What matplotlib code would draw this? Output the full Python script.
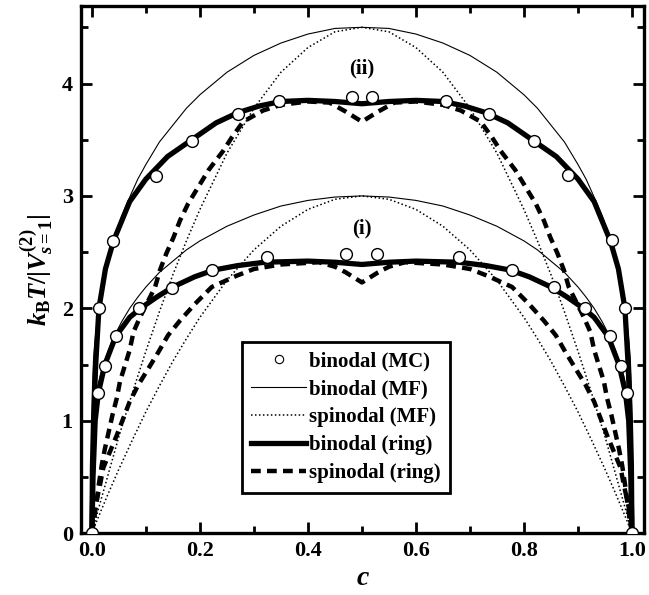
import matplotlib
matplotlib.use("Agg")
import matplotlib.pyplot as plt

plt.rcParams['font.family'] = ['Liberation Serif', 'DejaVu Serif']
plt.rcParams['font.weight'] = 'bold'
plt.rcParams['mathtext.fontset'] = 'custom'
plt.rcParams['mathtext.rm'] = 'Liberation Serif:bold'
plt.rcParams['mathtext.it'] = 'Liberation Serif:italic:bold'
plt.rcParams['mathtext.bf'] = 'Liberation Serif:bold'

# ---- Monte Carlo binodal points ----
mc2_c = [0.013, 0.039, 0.118, 0.185, 0.270, 0.347, 0.481, 0.518,
         0.656, 0.735, 0.819, 0.881, 0.964, 0.988]
mc2_T = [2.00, 2.60, 3.18, 3.49, 3.73, 3.84, 3.88, 3.88,
         3.84, 3.73, 3.49, 3.19, 2.61, 2.00]
mc1_c = [0.0, 0.012, 0.024, 0.044, 0.088, 0.148, 0.223, 0.324, 0.470, 0.527,
         0.680, 0.777, 0.855, 0.913, 0.959, 0.979, 0.991, 1.0]
mc1_T = [0.0, 1.25, 1.49, 1.75, 2.00, 2.18, 2.34, 2.46, 2.48, 2.48,
         2.46, 2.34, 2.19, 2.00, 1.75, 1.49, 1.25, 0.0]

# ---- mean-field binodal ----
mfb_c = [0.0, 0.0002, 0.001, 0.003, 0.005, 0.01, 0.015, 0.02, 0.03, 0.04,
         0.055, 0.07, 0.085, 0.10, 0.125, 0.15, 0.175, 0.20, 0.25, 0.30,
         0.35, 0.40, 0.45, 0.50, 0.55, 0.60, 0.65, 0.70, 0.75, 0.80, 0.825,
         0.85, 0.875, 0.90, 0.915, 0.93, 0.945, 0.96, 0.97, 0.98, 0.985,
         0.99, 0.995, 0.997, 0.999, 0.9998, 1.0]
mfb1_T = [0.0, 0.70, 0.87, 1.03, 1.12, 1.28, 1.39, 1.48, 1.62, 1.74,
          1.88, 2.00, 2.10, 2.19, 2.32, 2.42, 2.52, 2.60, 2.73, 2.83,
          2.91, 2.96, 2.99, 3.00, 2.99, 2.96, 2.91, 2.83, 2.73, 2.60, 2.52,
          2.42, 2.32, 2.19, 2.10, 2.00, 1.88, 1.74, 1.62, 1.48, 1.39,
          1.28, 1.12, 1.03, 0.87, 0.70, 0.0]
mfb2_T = [0.0, 1.05, 1.30, 1.55, 1.68, 1.92, 2.08, 2.22, 2.43, 2.61,
          2.82, 2.99, 3.15, 3.28, 3.48, 3.63, 3.78, 3.90, 4.10, 4.25,
          4.36, 4.44, 4.49, 4.50, 4.49, 4.44, 4.36, 4.25, 4.10, 3.90, 3.78,
          3.63, 3.48, 3.28, 3.15, 2.99, 2.82, 2.61, 2.43, 2.22, 2.08,
          1.92, 1.68, 1.55, 1.30, 1.05, 0.0]

# ---- mean-field spinodal ----
mfs_c = [0.0, 0.01, 0.03, 0.05, 0.075, 0.10, 0.125, 0.15, 0.175, 0.20, 0.25,
         0.30, 0.35, 0.40, 0.45, 0.50, 0.55, 0.60, 0.65, 0.70, 0.75, 0.80,
         0.825, 0.85, 0.875, 0.90, 0.925, 0.95, 0.97, 0.99, 1.0]
mfs1_T = [0.0, 0.12, 0.35, 0.57, 0.83, 1.08, 1.31, 1.53, 1.73, 1.92, 2.25,
          2.52, 2.73, 2.88, 2.97, 3.00, 2.97, 2.88, 2.73, 2.52, 2.25, 1.92,
          1.73, 1.53, 1.31, 1.08, 0.83, 0.57, 0.35, 0.12, 0.0]
mfs2_T = [0.0, 0.18, 0.52, 0.86, 1.25, 1.62, 1.97, 2.30, 2.60, 2.88, 3.38,
          3.78, 4.10, 4.32, 4.46, 4.50, 4.46, 4.32, 4.10, 3.78, 3.38, 2.88,
          2.60, 2.30, 1.97, 1.62, 1.25, 0.86, 0.52, 0.18, 0.0]

# ---- ring binodal ----
rb2_c = [0.0, 0.001, 0.003, 0.007, 0.013, 0.025, 0.04, 0.07, 0.10, 0.14,
         0.185, 0.23, 0.27, 0.31, 0.35, 0.40, 0.45, 0.50, 0.55, 0.60, 0.65,
         0.69, 0.73, 0.77, 0.815, 0.86, 0.90, 0.93, 0.96, 0.975, 0.987,
         0.993, 0.997, 0.999, 1.0]
rb2_T = [0.0, 0.60, 1.00, 1.50, 2.00, 2.35, 2.60, 2.95, 3.15, 3.35,
         3.50, 3.65, 3.74, 3.80, 3.84, 3.85, 3.84, 3.82, 3.84, 3.85, 3.84,
         3.80, 3.74, 3.65, 3.50, 3.35, 3.15, 2.95, 2.60, 2.35, 2.00,
         1.50, 1.00, 0.60, 0.0]
rb1_c = [0.0, 0.002, 0.006, 0.012, 0.024, 0.044, 0.07, 0.09, 0.12, 0.15,
         0.19, 0.225, 0.27, 0.32, 0.40, 0.45, 0.50, 0.55, 0.60, 0.68, 0.73,
         0.775, 0.81, 0.85, 0.88, 0.91, 0.93, 0.956, 0.976, 0.988, 0.994,
         0.998, 1.0]
rb1_T = [0.0, 0.50, 1.00, 1.25, 1.50, 1.75, 1.92, 2.00, 2.10, 2.19,
         2.28, 2.34, 2.38, 2.41, 2.42, 2.41, 2.39, 2.41, 2.42, 2.41, 2.38,
         2.34, 2.28, 2.19, 2.10, 2.00, 1.92, 1.75, 1.50, 1.25, 1.00,
         0.50, 0.0]

# ---- ring spinodal ----
rs2_c = [0.0, 0.009, 0.013, 0.018, 0.024, 0.031, 0.038, 0.046, 0.052, 0.061,
         0.070, 0.077, 0.089, 0.117, 0.126, 0.138, 0.151, 0.163, 0.178, 0.197,
         0.216, 0.243, 0.259, 0.280, 0.317, 0.35, 0.40, 0.44, 0.47, 0.50,
         0.53, 0.56, 0.60, 0.65, 0.683, 0.72, 0.741, 0.757, 0.784, 0.803,
         0.822, 0.837, 0.849, 0.862, 0.874, 0.883, 0.911, 0.923, 0.930,
         0.939, 0.948, 0.954, 0.962, 0.969, 0.976, 0.982, 0.987, 0.991, 1.0]
rs2_T = [0.0, 0.29, 0.44, 0.60, 0.75, 0.90, 1.05, 1.20, 1.35, 1.49,
         1.63, 1.79, 1.92, 2.19, 2.34, 2.49, 2.63, 2.78, 2.93, 3.08,
         3.23, 3.40, 3.52, 3.66, 3.76, 3.81, 3.84, 3.83, 3.75, 3.66,
         3.75, 3.83, 3.84, 3.81, 3.76, 3.66, 3.52, 3.40, 3.23, 3.08,
         2.93, 2.78, 2.63, 2.49, 2.34, 2.19, 1.92, 1.79, 1.63,
         1.49, 1.35, 1.20, 1.05, 0.90, 0.75, 0.60, 0.44, 0.29, 0.0]
rs1_c = [0.0, 0.006, 0.015, 0.021, 0.033, 0.046, 0.058, 0.070, 0.086, 0.104,
         0.123, 0.141, 0.163, 0.191, 0.222, 0.268, 0.30, 0.35, 0.42, 0.45,
         0.47, 0.50, 0.53, 0.55, 0.58, 0.65, 0.70, 0.732, 0.778, 0.809,
         0.837, 0.859, 0.877, 0.896, 0.914, 0.930, 0.942, 0.954, 0.967,
         0.979, 0.985, 0.994, 1.0]
rs1_T = [0.0, 0.23, 0.43, 0.58, 0.72, 0.87, 1.02, 1.17, 1.32, 1.46,
         1.61, 1.76, 1.89, 2.04, 2.19, 2.29, 2.35, 2.39, 2.41, 2.37,
         2.32, 2.23, 2.32, 2.37, 2.41, 2.39, 2.35, 2.29, 2.19, 2.04,
         1.89, 1.76, 1.61, 1.46, 1.32, 1.17, 1.02, 0.87, 0.72,
         0.58, 0.43, 0.23, 0.0]

fig = plt.figure(figsize=(6.49, 5.95), dpi=100)
ax = fig.add_axes([0.125, 0.104, 0.867, 0.886])

dash = (0, (2.2, 1.4))
dot = (0, (1, 1.6))

ax.plot(mfb_c, mfb1_T, color='black', lw=0.8)
ax.plot(mfb_c, mfb2_T, color='black', lw=0.8)
ax.plot(mfs_c, mfs1_T, color='black', lw=1.1, linestyle=dot)
ax.plot(mfs_c, mfs2_T, color='black', lw=1.1, linestyle=dot)
ax.plot(rb1_c, rb1_T, color='black', lw=3.8, solid_joinstyle='round')
ax.plot(rb2_c, rb2_T, color='black', lw=3.8, solid_joinstyle='round')
ax.plot(rs1_c, rs1_T, color='black', lw=3.2, linestyle=dash)
ax.plot(rs2_c, rs2_T, color='black', lw=3.2, linestyle=dash)
ax.plot(mc1_c, mc1_T, 'o', ms=8.5, mfc='white', mec='black', mew=1.0, zorder=5)
ax.plot(mc2_c, mc2_T, 'o', ms=8.5, mfc='white', mec='black', mew=1.0, zorder=5)

# legend handles
h_mc, = ax.plot([], [], 'o', ms=6, mfc='white', mec='black', mew=0.8)
h_mfb, = ax.plot([], [], color='black', lw=0.8)
h_mfs, = ax.plot([], [], color='black', lw=1.1, linestyle=dot)
h_rb, = ax.plot([], [], color='black', lw=3.8)
h_rs, = ax.plot([], [], color='black', lw=3.2, linestyle=dash)
leg = ax.legend([h_mc, h_mfb, h_mfs, h_rb, h_rs],
                ['binodal (MC)', 'binodal (MF)', 'spinodal (MF)',
                 'binodal (ring)', 'spinodal (ring)'],
                loc='upper left', bbox_to_anchor=(0.286, 0.362),
                fontsize=15, frameon=True, fancybox=False, edgecolor='black',
                framealpha=1.0,
                handlelength=2.6, handletextpad=0.15, labelspacing=0.38,
                borderpad=0.45, borderaxespad=0.0)
leg.get_frame().set_linewidth(2.0)

ax.text(0.5, 4.13, '(ii)', ha='center', va='center', fontsize=15)
ax.text(0.5, 2.71, '(i)', ha='center', va='center', fontsize=15)

ax.set_xlim(-0.02, 1.022)
ax.set_ylim(0, 4.69)
ax.set_xticks([0.0, 0.2, 0.4, 0.6, 0.8, 1.0])
ax.set_xticklabels(['0.0', '0.2', '0.4', '0.6', '0.8', '1.0'])
ax.set_yticks([0, 1, 2, 3, 4])
ax.set_xticks([0.1, 0.3, 0.5, 0.7, 0.9], minor=True)
ax.set_yticks([0.5, 1.5, 2.5, 3.5, 4.5], minor=True)
ax.tick_params(which='both', direction='in', top=True, right=True,
               labelsize=16, width=2)
ax.tick_params(which='major', length=8, pad=6)
ax.tick_params(which='minor', length=5)
for s in ax.spines.values():
    s.set_linewidth(2.4)

ax.set_xlabel(r'$c$', fontsize=20, labelpad=3)
ax.set_ylabel(r'$k_\mathrm{B}T/|V_{s=1}^{(2)}|$', fontsize=19, labelpad=4)

fig.savefig('out.png', dpi=100)
